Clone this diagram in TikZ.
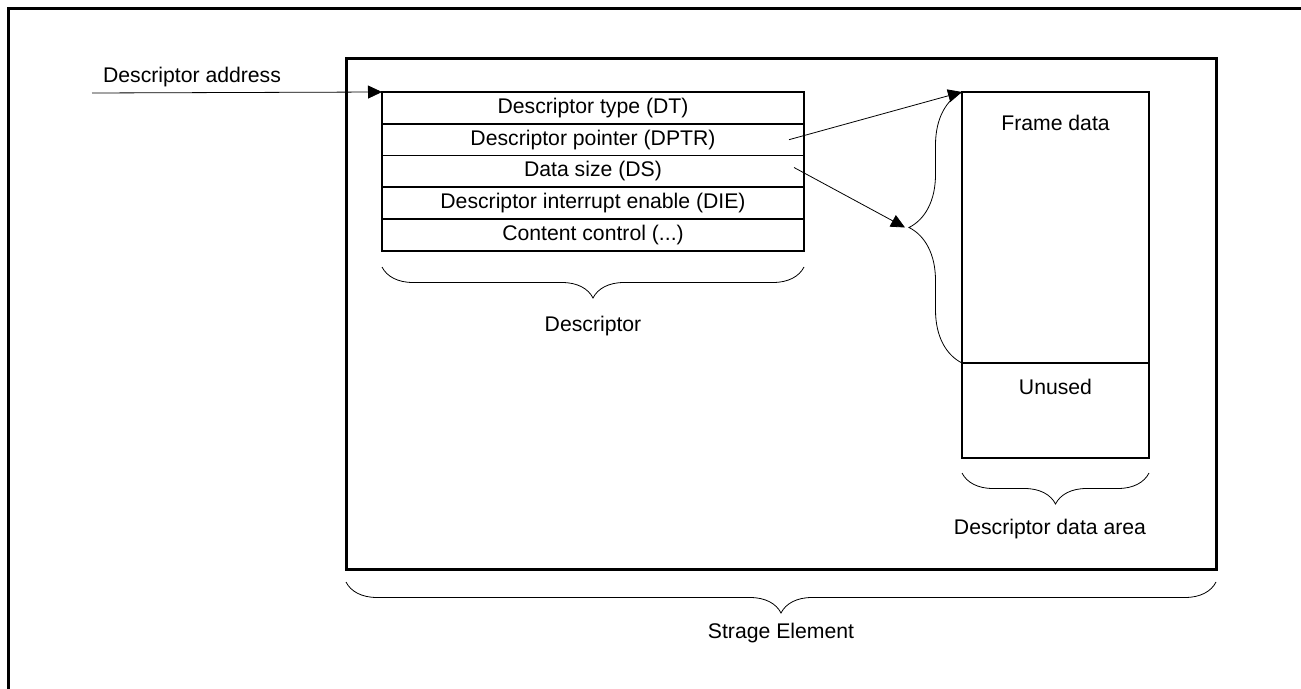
\documentclass[tikz,border=0pt]{standalone}
\usepackage{fontspec}
\setmainfont{Liberation Sans}
\usetikzlibrary{%
  arrows.meta,
  positioning,calc,
  decorations.pathreplacing
}
\tikzset{
curly/.style = {decorate,
            decoration={brace, amplitude=#1},
            thin},
field/.style = {draw, line width=0.9pt, minimum width=211pt,
            minimum height=15.9pt, inner sep=0pt, outer sep=0pt},
area/.style = {draw, line width=1pt, minimum width=93.5pt,
            inner sep=0pt, outer sep=0pt}
}

\begin{document}
\begin{tikzpicture}[x=0.5pt,y=-0.5pt,
  font=\fontsize{10.6}{12.7}\selectfont,
  >={Triangle[length=7pt,width=6.5pt]}]
  \useasboundingbox (0,0) rectangle (1301,689);
  \draw[line width=1.5pt] (8,689) -- (8,9) -- (1301,9);

  % storage element
  \node[draw, line width=1.5pt, minimum width=435pt, minimum height=255pt,
    inner sep=0pt, outer sep=0pt] (elem) at (781,314) {};

  % descriptor fields
  \foreach \nm/\txt [count=\i] in {
    dt/Descriptor type (DT),
    dptr/Descriptor pointer (DPTR),
    ds/Data size (DS),
    die/Descriptor interrupt enable (DIE),
    cc/{Content control ({.}{.}{.})}
  }{
    \node[field] (\nm) at (593,{92+31.8*(\i-0.5)}) {\txt};
  }

  % data area
  \node[area, minimum height=135.5pt] (frame) at (1055.5,227.5) {};
  \node[area, minimum height=47.5pt, below=0pt of frame] (unused) {};
  \node (framelbl) at ($(frame.north)+(0,31)$) {Frame data};
  \node (unusedlbl) at ($(unused.north)+(0,24)$) {Unused};

  \coordinate (addr) at (92,93);
  \node[anchor=west] (addrlbl) at (96,77) {Descriptor address};
  \draw[->] (addr) -- (dt.north west);

  \coordinate (tip) at ([xshift=-28.5pt]frame.west);
  \draw[curly=26.5pt] (unused.north west) -- (frame.north west);
  \draw[->] ([xshift=-7.5pt]dptr.east) -- (frame.north west);
  \draw[->] ($(ds.east)+(-10,-4)$) -- (tip);

  % braces below
  \draw[curly=15.5pt] ([yshift=-8pt]cc.south east) -- ([yshift=-8pt]cc.south west);
  \node (desclbl) at (593,326) {Descriptor};
  \draw[curly=15.5pt] ([yshift=-7.5pt]unused.south east) -- ([yshift=-7.5pt]unused.south west);
  \node (arealbl) at (1050,529) {Descriptor data area};
  \draw[curly=15.5pt] ([yshift=-6.5pt]elem.south east) -- ([yshift=-6.5pt]elem.south west);
  \node (elemlbl) at (781,633) {Strage Element};
\end{tikzpicture}
\end{document}
